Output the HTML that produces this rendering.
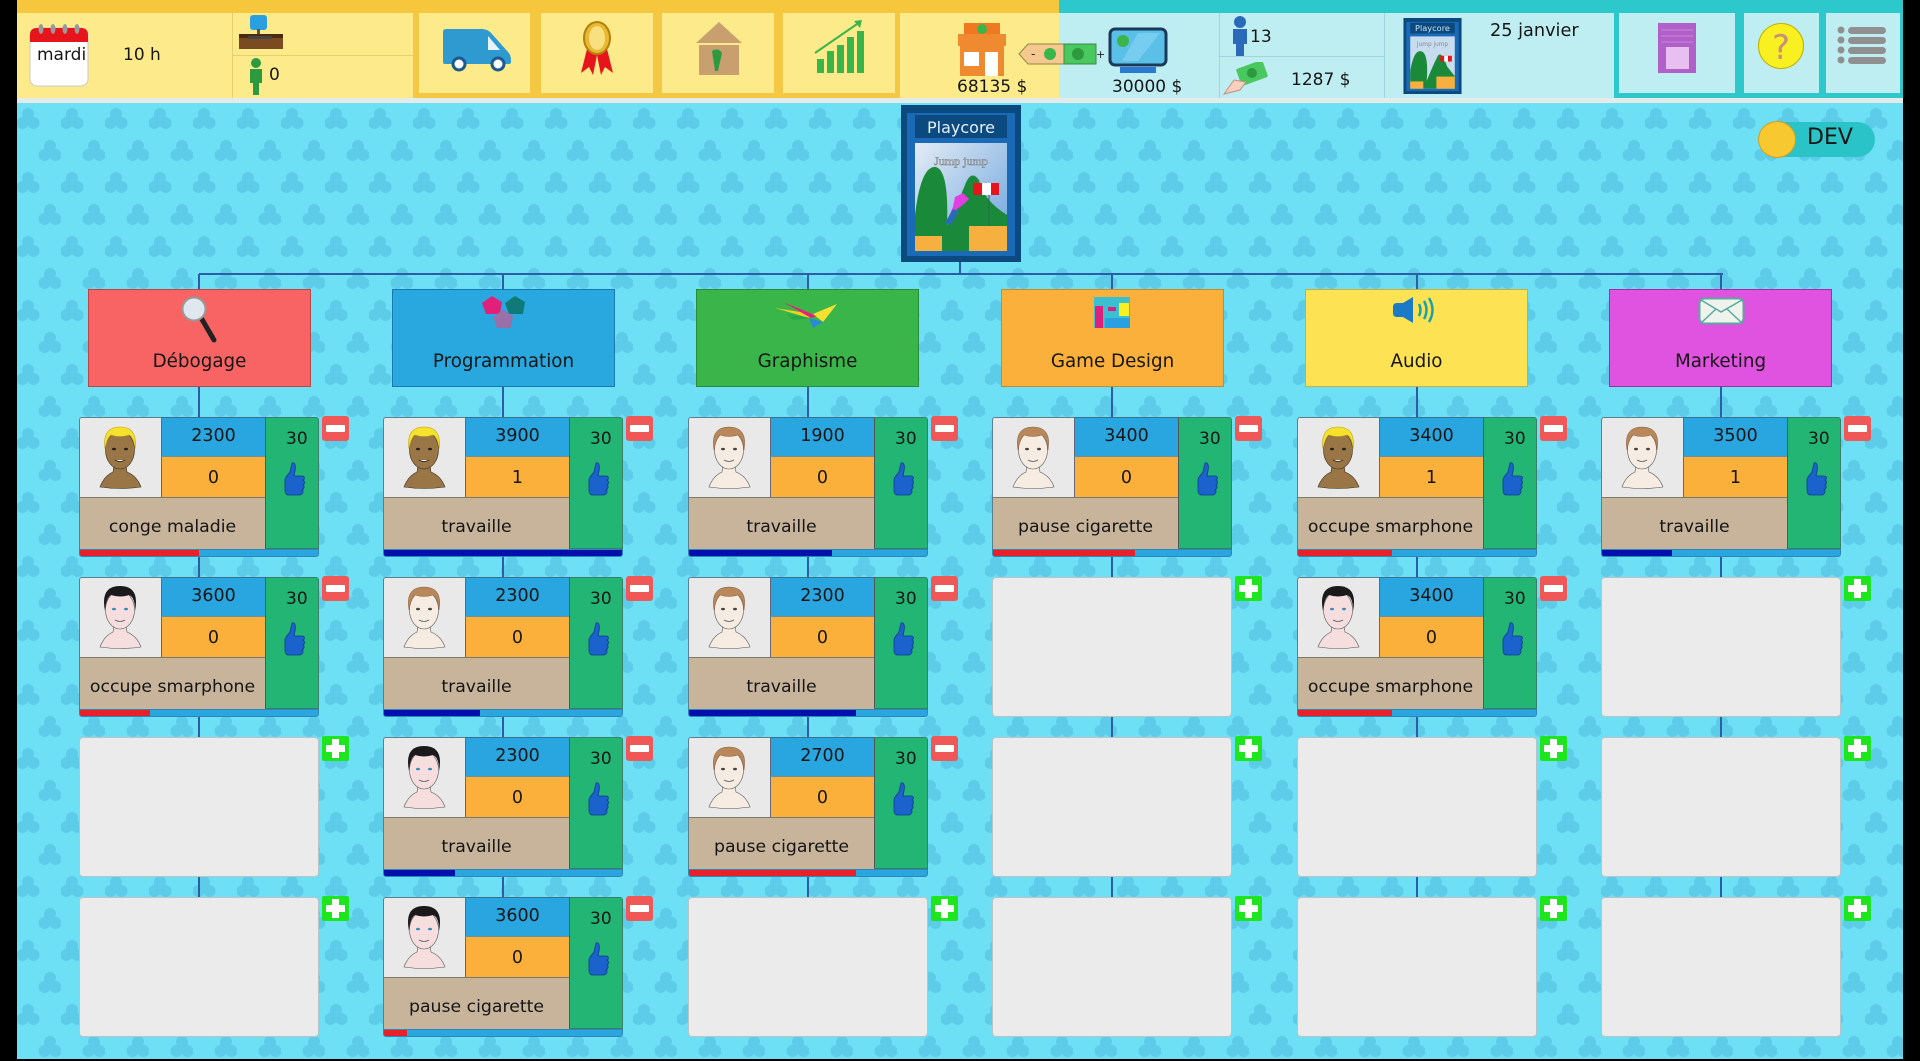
<!DOCTYPE html>
<html><head><meta charset="utf-8">
<style>
*{margin:0;padding:0;box-sizing:border-box}
html,body{width:1920px;height:1061px;overflow:hidden;background:#000}
body{font-family:"DejaVu Sans","Liberation Sans",sans-serif;color:#161616}
#app{position:absolute;left:0;top:0;width:1920px;height:1061px;background:#000;overflow:hidden}
.a{position:absolute}
.t{position:absolute;font-size:17px;line-height:20px;white-space:nowrap}
.box{position:absolute;width:223px;height:98px;border:1px solid rgba(0,0,0,.25);text-align:center;font-size:18.3px}
.box span{position:absolute;left:0;right:0;top:61px;line-height:22px}
.card{position:absolute;width:240px;height:140px}
.card>div{position:absolute}
.ph{left:0;top:0;width:82px;height:81px;background:#e9e9e9;border:1px solid #5c7f8f;border-right:none;border-bottom:1px solid #7a7a6a;border-radius:3px 0 0 0}
.bl{left:82px;top:0;width:104px;height:40px;background:#29a6df;text-align:center;line-height:36px;font-size:17.5px;border-top:1px solid #3a6f8f;border-bottom:1px solid #6f8fa0;border-left:1px solid #667}
.or{left:82px;top:40px;width:104px;height:41px;background:#fbb03b;text-align:center;line-height:42px;font-size:17.5px;border-left:1px solid #667;border-bottom:1px solid #7a7a6a}
.tn{left:0;top:81px;width:186px;height:51px;background:#c7b49b;text-align:center;line-height:58px;font-size:17.3px;border-left:1px solid #5c7f8f;overflow:hidden;white-space:nowrap}
.gr{left:186px;top:0;width:54px;height:132px;background:#22b573;border:1px solid #3a7f6a;border-left:1px solid #555;border-radius:0 3px 0 0}
.gr span{position:absolute;left:20px;top:10px;font-size:17px;line-height:22px}
.gr svg{position:absolute;left:17px;top:44px}
.bar{left:0;top:132px;width:240px;height:8px;background:#29a6df;border:1px solid #2f86b8;border-radius:0 0 3px 3px;overflow:hidden}
.bar i{position:absolute;left:0;top:0;height:8px;display:block}
.rd{background:#e8202a}.dk{background:#0410ad}
.mi{left:243px;top:-1px;width:27px;height:25px;background:#f05858;border-radius:3px}
.mi:after{content:"";position:absolute;left:4px;top:9px;width:19px;height:7px;background:#fff;border-radius:1px}
.empty{position:absolute;width:240px;height:140px;background:#ebebeb;border:1px solid #b9c4c8;border-radius:4px}
.pl{position:absolute;width:27px;height:25px;background:#1ee61e;border-radius:2px}
.pl:before{content:"";position:absolute;left:4px;top:9px;width:19px;height:7px;background:#fff}
.pl:after{content:"";position:absolute;left:10px;top:3px;width:7px;height:19px;background:#fff}
.vl{position:absolute;width:2px;background:#2c5ea8}
</style></head>
<body><div id="app">

<svg width="0" height="0" style="position:absolute">
<defs>
<pattern id="pat" width="44" height="64" patternUnits="userSpaceOnUse">
<rect width="44" height="64" fill="#6de0f6"/>
<g fill="#5ccce9">
<circle cx="11" cy="11" r="6"/><circle cx="5.5" cy="20" r="6"/><circle cx="16.5" cy="20" r="6"/>
<circle cx="33" cy="43" r="6"/><circle cx="27.5" cy="52" r="6"/><circle cx="38.5" cy="52" r="6"/>
</g>
</pattern>
<symbol id="thumb" viewBox="0 0 22 34">
<path d="M9 1 C12 0 13 4 12 9 L11 14 L19 14 C22 14 22 17 20 18 C22 19 22 22 20 23 C22 24 21 27 19 28 C21 29 20 32 17 33 L6 33 C3 33 2 31 2 28 L2 18 C2 15 5 13 7 10 Z" fill="#1c62cc" stroke="#0e3c90" stroke-width=".8"/>
</symbol>
<symbol id="fB" viewBox="0 0 82 81">
<path d="M20 69 Q24 58 33 54 L34 47 L46 47 L47 54 Q57 58 61 69 Q40 72 20 69Z" fill="#9a7646" stroke="#3a3020" stroke-width=".6"/>
<ellipse cx="40" cy="32" rx="14.5" ry="19" fill="#9a7646" stroke="#3a3020" stroke-width=".6"/>
<path d="M25 31 Q22 9 40 9 Q58 9 55 31 Q54 19 49 17 Q40 20 31 17 Q27 20 25 31Z" fill="#f6e22c" stroke="#c0a010" stroke-width=".6"/>
<ellipse cx="34" cy="31" rx="2" ry="1.3" fill="#222"/><ellipse cx="46" cy="31" rx="2" ry="1.3" fill="#222"/>
<path d="M35 42 Q40 45 45 42" stroke="#222" fill="#fff" stroke-width=".8"/>
</symbol>
<symbol id="fK" viewBox="0 0 82 81">
<path d="M20 69 Q24 58 33 54 L34 47 L46 47 L47 54 Q57 58 61 69 Q40 72 20 69Z" fill="#f6dede" stroke="#555" stroke-width=".6"/>
<ellipse cx="40" cy="32" rx="14.5" ry="19" fill="#f6dede" stroke="#555" stroke-width=".6"/>
<path d="M25 33 Q20 8 40 8 Q60 8 55 33 Q55 19 49 17 Q40 20 31 17 Q26 20 25 33Z" fill="#1a1a1a"/>
<ellipse cx="34" cy="31" rx="2" ry="1.3" fill="#3a8ac0"/><ellipse cx="46" cy="31" rx="2" ry="1.3" fill="#3a8ac0"/>
<path d="M35 42 Q40 45 45 42" stroke="#555" fill="none" stroke-width=".8"/>
</symbol>
<symbol id="fR" viewBox="0 0 82 81">
<path d="M20 69 Q24 58 33 54 L34 47 L46 47 L47 54 Q57 58 61 69 Q40 72 20 69Z" fill="#f7ece2" stroke="#555" stroke-width=".6"/>
<ellipse cx="40" cy="32" rx="14.5" ry="19" fill="#f7ece2" stroke="#555" stroke-width=".6"/>
<path d="M25 32 Q21 9 40 9 Q59 9 55 32 Q54 19 49 17 Q40 20 31 17 Q27 20 25 32Z" fill="#b8875a" stroke="#8a6040" stroke-width=".5"/>
<ellipse cx="34" cy="31" rx="2" ry="1.3" fill="#444"/><ellipse cx="46" cy="31" rx="2" ry="1.3" fill="#444"/>
<path d="M35 42 Q40 45 45 42" stroke="#555" fill="none" stroke-width=".8"/>
</symbol>
</defs>
</svg>

<!-- background -->
<svg class="a" style="left:17px;top:103px" width="1886" height="956"><rect width="1886" height="956" fill="url(#pat)"/></svg>

<!-- TOP BAR yellow -->
<div class="a" style="left:17px;top:0;width:1042px;height:98px;background:#fdeb8b"></div>
<div class="a" style="left:17px;top:0;width:1042px;height:13px;background:#f6c73c"></div>
<div class="a" style="left:413px;top:13px;width:487px;height:85px;background:#f5c843"></div>
<div class="a" style="left:419px;top:13px;width:111px;height:80px;background:#fdeb8b"></div>
<div class="a" style="left:541px;top:13px;width:112px;height:80px;background:#fdeb8b"></div>
<div class="a" style="left:662px;top:13px;width:112px;height:80px;background:#fdeb8b"></div>
<div class="a" style="left:783px;top:13px;width:112px;height:80px;background:#fdeb8b"></div>
<div class="a" style="left:232px;top:13px;width:1px;height:85px;background:#e6cf6c"></div>
<div class="a" style="left:233px;top:55px;width:180px;height:1px;background:#e6cf6c"></div>
<!-- teal -->
<div class="a" style="left:1059px;top:0;width:844px;height:98px;background:#bfeef2"></div>
<div class="a" style="left:1059px;top:0;width:844px;height:13px;background:#2cc8cc"></div>
<div class="a" style="left:1614px;top:13px;width:289px;height:85px;background:#2cc8cc"></div>
<div class="a" style="left:1619px;top:13px;width:116px;height:80px;background:#bfeef2"></div>
<div class="a" style="left:1744px;top:13px;width:75px;height:80px;background:#bfeef2"></div>
<div class="a" style="left:1826px;top:13px;width:74px;height:80px;background:#bfeef2"></div>
<div class="a" style="left:1219px;top:13px;width:1px;height:85px;background:#9fd6dc"></div>
<div class="a" style="left:1384px;top:13px;width:1px;height:85px;background:#9fd6dc"></div>
<div class="a" style="left:1220px;top:56px;width:164px;height:1px;background:#9fd6dc"></div>
<div class="a" style="left:17px;top:98px;width:1886px;height:5px;background:#e4ebe8"></div>

<!-- calendar -->
<svg class="a" style="left:29px;top:24px" width="62" height="64">
<rect x="1" y="4" width="58" height="58" rx="7" fill="#fff" stroke="#c8c8c8"/>
<path d="M1 18 L1 11 Q1 4 8 4 L52 4 Q59 4 59 11 L59 18 Z" fill="#e8141c"/>
<g fill="#999"><ellipse cx="12" cy="5" rx="2.5" ry="5"/><ellipse cx="24" cy="5" rx="2.5" ry="5"/><ellipse cx="36" cy="5" rx="2.5" ry="5"/><ellipse cx="48" cy="5" rx="2.5" ry="5"/></g>
</svg>
<div class="t" style="left:37px;top:45px">mardi</div>
<div class="t" style="left:123px;top:45px">10 h</div>
<!-- computer -->
<svg class="a" style="left:238px;top:14px" width="46" height="38">
<rect x="12" y="1" width="17" height="15" rx="3" fill="#2aa0e0"/>
<rect x="19" y="15" width="3" height="5" fill="#555"/>
<path d="M1 20 L45 20 L45 35 L1 35 Z" fill="#7a4a20"/>
<rect x="1" y="20" width="44" height="4" fill="#4a2a10"/>
<rect x="10" y="22" width="24" height="3" fill="#444"/>
</svg>
<svg class="a" style="left:247px;top:57px" width="18" height="40">
<circle cx="9" cy="6" r="5" fill="#2e9a40"/><path d="M3 12 L15 12 L15 26 L12 26 L12 38 L6 38 L6 26 L3 26 Z" fill="#2e9a40"/>
</svg>
<div class="t" style="left:269px;top:65px">0</div>
<!-- truck -->
<svg class="a" style="left:442px;top:28px" width="72" height="44">
<path d="M1 4 Q1 1 4 1 L40 1 Q46 1 50 6 L66 24 Q69 27 69 32 L69 34 Q69 36 67 36 L3 36 Q1 36 1 34 Z" fill="#2e9ad0"/>
<path d="M46 8 L58 22 L46 22 Z" fill="#e8f4fc"/>
<circle cx="17" cy="36" r="6" fill="#fff" stroke="#1a5a90" stroke-width="3"/>
<circle cx="56" cy="36" r="6" fill="#fff" stroke="#1a5a90" stroke-width="3"/>
</svg>
<!-- medal -->
<svg class="a" style="left:577px;top:21px" width="40" height="56">
<path d="M10 28 L4 52 L12 46 L16 54 L20 34 Z" fill="#e8141c"/><path d="M30 28 L36 52 L28 46 L24 54 L20 34 Z" fill="#e8141c"/>
<ellipse cx="20" cy="17" rx="13" ry="16" fill="#e8b830" stroke="#b08010" stroke-width="2"/>
<ellipse cx="20" cy="17" rx="8" ry="12" fill="#f8e080"/>
</svg>
<!-- house -->
<svg class="a" style="left:694px;top:21px" width="50" height="56">
<path d="M25 1 L48 22 L2 22 Z" fill="#c8a070"/>
<rect x="5" y="24" width="40" height="30" fill="#c8a070"/>
<path d="M18 30 Q24 26 28 32 L24 50 L21 50 Z" fill="#2e9a40"/>
</svg>
<!-- chart -->
<svg class="a" style="left:812px;top:19px" width="54" height="56">
<rect x="5" y="40" width="7" height="14" fill="#3ab54a"/><rect x="15" y="32" width="7" height="22" fill="#3ab54a"/>
<rect x="25" y="26" width="7" height="28" fill="#3ab54a"/><rect x="35" y="18" width="7" height="36" fill="#3ab54a"/>
<rect x="45" y="12" width="7" height="42" fill="#3ab54a"/>
<path d="M3 34 L48 3" stroke="#3ab54a" stroke-width="2"/><path d="M42 2 L50 1 L48 9 Z" fill="#3ab54a"/>
</svg>
<!-- shop -->
<svg class="a" style="left:954px;top:22px" width="56" height="56">
<path d="M10 1 L46 1 L46 12 L10 12 Z" fill="#f07820"/>
<rect x="4" y="12" width="48" height="12" fill="#f08a30"/>
<rect x="6" y="24" width="44" height="30" fill="#f08a30"/>
<rect x="10" y="30" width="15" height="14" fill="#fff"/><rect x="31" y="30" width="13" height="24" fill="#fff"/>
<circle cx="28" cy="7" r="5" fill="#3ab54a"/>
</svg>
<svg class="a" style="left:1018px;top:42px" width="86" height="24">
<path d="M1 12 L10 2 L46 2 L46 22 L10 22 Z" fill="#f6c890" stroke="#8a8a40"/>
<rect x="46" y="2" width="32" height="20" fill="#4ac860" stroke="#3a8a40"/>
<circle cx="32" cy="12" r="6" fill="#3ab54a"/><circle cx="60" cy="12" r="6" fill="#2e9a40"/>
<text x="13" y="16" font-size="12" font-family="DejaVu Sans" fill="#222">-</text>
<text x="78" y="16" font-size="11" font-family="DejaVu Sans" fill="#222">+</text>
</svg>
<svg class="a" style="left:1108px;top:27px" width="60" height="48">
<rect x="2" y="2" width="56" height="36" rx="5" fill="#5ac0e8" stroke="#1a3a5a" stroke-width="3"/>
<path d="M30 6 L52 6 L30 34 L14 34 Z" fill="#8ad6f4" opacity=".6"/>
<circle cx="15" cy="14" r="6" fill="#3ab54a"/>
<rect x="12" y="40" width="36" height="6" fill="#2a7ad0"/>
</svg>
<div class="t" style="left:957px;top:77px">68135 $</div>
<div class="t" style="left:1112px;top:77px">30000 $</div>
<svg class="a" style="left:1230px;top:15px" width="20" height="42">
<circle cx="10" cy="7" r="6" fill="#2a6ab8"/><path d="M3 14 L17 14 L17 29 L14 29 L14 41 L6 41 L6 29 L3 29 Z" fill="#2a6ab8"/>
</svg>
<div class="t" style="left:1250px;top:27px">13</div>
<svg class="a" style="left:1222px;top:62px" width="46" height="34">
<rect x="16" y="2" width="28" height="18" rx="2" fill="#4ac860" transform="rotate(-20 30 11)"/>
<circle cx="30" cy="11" r="5" fill="#2e9a40"/>
<path d="M2 32 L12 18 L24 20 L18 28 Z" fill="#f8d0c0" stroke="#c09080"/>
</svg>
<div class="t" style="left:1291px;top:70px">1287 $</div>
<!-- small cover -->
<svg class="a" style="left:1403px;top:18px" width="59" height="76" viewBox="0 0 120 157">
<rect width="120" height="157" fill="#0b4a7e"/><rect x="6" y="8" width="108" height="143" fill="#1a6ab8"/>
<rect x="14" y="10" width="92" height="22" fill="#0b4a7e"/>
<text x="60" y="27" font-size="17" fill="#cfe0f0" text-anchor="middle" font-family="DejaVu Sans">Playcore</text>
<rect x="14" y="38" width="92" height="108" fill="#c8dcf0"/>
<text x="60" y="58" font-size="12" fill="#888" text-anchor="middle" font-family="DejaVu Sans">Jump jump</text>
<path d="M14 146 L14 110 Q22 60 40 70 Q52 80 48 130 Q60 100 70 80 Q78 65 90 100 L106 120 L106 146Z" fill="#1a8a3a"/>
<rect x="14" y="131" width="27" height="15" fill="#f6b040"/><rect x="68" y="121" width="38" height="25" fill="#f6b040"/>
<rect x="76" y="78" width="24" height="12" fill="#e8141c"/><rect x="84" y="78" width="8" height="12" fill="#fff"/>
</svg>
<div class="t" style="left:1490px;top:21px;font-size:17.7px">25 janvier</div>
<!-- book -->
<svg class="a" style="left:1657px;top:22px" width="40" height="52">
<rect x="1" y="1" width="38" height="50" fill="#b060c8"/>
<g stroke="#c888d8" stroke-width="1"><line x1="4" y1="8" x2="36" y2="8"/><line x1="4" y1="14" x2="36" y2="14"/><line x1="4" y1="20" x2="36" y2="20"/></g>
<rect x="9" y="25" width="23" height="22" fill="#e8c0f0"/>
</svg>
<svg class="a" style="left:1757px;top:22px" width="48" height="48">
<circle cx="24" cy="24" r="22.5" fill="#f8f020" stroke="#c0b000" stroke-width="1"/>
<text x="24" y="37" font-size="34" fill="#c8907a" text-anchor="middle" font-family="DejaVu Sans">?</text>
</svg>
<svg class="a" style="left:1837px;top:26px" width="50" height="38">
<g fill="#909090"><circle cx="4" cy="4" r="3.5"/><circle cx="4" cy="14" r="3.5"/><circle cx="4" cy="24" r="3.5"/><circle cx="4" cy="34" r="3.5"/>
<rect x="11" y="1" width="38" height="7" rx="3.5"/><rect x="11" y="11" width="38" height="7" rx="3.5"/><rect x="11" y="21" width="38" height="7" rx="3.5"/><rect x="11" y="31" width="38" height="7" rx="3.5"/></g>
</svg>

<!-- DEV toggle -->
<div class="a" style="left:1760px;top:122px;width:115px;height:35px;background:#2ac4c8;border-radius:18px"></div>
<div class="a" style="left:1758px;top:121px;width:38px;height:37px;background:#f8c830;border-radius:50%;border:1px solid #d0a020"></div>
<div class="t" style="left:1807px;top:125px;font-size:22px;line-height:26px">DEV</div>

<!-- tree lines -->
<div class="a" style="left:199px;top:273px;width:1524px;height:2px;background:#2c5ea8"></div>
<div class="vl" style="left:959px;top:260px;height:14px"></div>
<div class="vl" style="left:198px;top:274px;height:630px"></div>
<div class="vl" style="left:502px;top:274px;height:630px"></div>
<div class="vl" style="left:807px;top:274px;height:630px"></div>
<div class="vl" style="left:1111px;top:274px;height:630px"></div>
<div class="vl" style="left:1416px;top:274px;height:630px"></div>
<div class="vl" style="left:1720px;top:274px;height:630px"></div>

<!-- main cover -->
<svg class="a" style="left:901px;top:105px" width="120" height="157" viewBox="0 0 120 157">
<defs><linearGradient id="sky" x1="0" y1="0" x2="1" y2="1"><stop offset="0" stop-color="#e4ecf6"/><stop offset="1" stop-color="#6aa4dc"/></linearGradient></defs>
<rect width="120" height="157" fill="#0b4a7e"/><rect x="6" y="8" width="108" height="143" fill="#1a6ab8"/>
<rect x="14" y="10" width="92" height="23" fill="#0b4a7e"/>
<text x="60" y="28" font-size="16" fill="#e6f0f8" text-anchor="middle" font-family="DejaVu Sans">Playcore</text>
<rect x="14" y="38" width="92" height="108" fill="url(#sky)"/>
<text x="60" y="60" font-size="12" fill="#dde6ee" stroke="#777" stroke-width=".5" text-anchor="middle" font-family="Liberation Serif">Jump jump</text>
<path d="M14 146 L14 110 Q20 60 35 62 Q48 66 46 120 Q56 100 64 80 Q70 64 78 75 Q82 95 106 110 L106 146Z" fill="#1a8a3a"/>
<rect x="14" y="131" width="27" height="15" fill="#f6b040"/><rect x="68" y="121" width="38" height="25" fill="#f6b040"/>
<rect x="72" y="78" width="26" height="12" fill="#e8141c"/><rect x="81" y="78" width="9" height="12" fill="#fff"/>
<line x1="88" y1="90" x2="88" y2="121" stroke="#2a6a4a"/>
<path d="M54 92 L62 88 L68 94 L62 100 L56 104 L50 118 L46 116 L52 102 Z" fill="#e040e0"/>
<path d="M52 104 L44 118 L50 120 L58 106Z" fill="#2a6ab8"/>
</svg>

<!-- column headers -->
<div class="box" style="left:88px;top:289px;background:#f86464;border-color:#b84848"><span>Débogage</span></div>
<svg class="a" style="left:180px;top:296px" width="40" height="48"><line x1="20" y1="20" x2="34" y2="44" stroke="#222" stroke-width="5" stroke-linecap="round"/><circle cx="14" cy="13" r="11.5" fill="#dfe8ee" stroke="#999" stroke-width="2"/></svg>
<div class="box" style="left:392px;top:289px;background:#29a8e0;border-color:#1a78b0"><span>Programmation</span></div>
<svg class="a" style="left:480px;top:295px" width="48" height="42">
<polygon points="12,1 22,7 20,19 6,19 2,8" fill="#e0207a"/><polygon points="35,1 45,7 43,19 29,19 25,8" fill="#107a78"/><polygon points="23,15 33,21 31,33 17,33 13,22" fill="#9a70a8"/>
</svg>
<div class="box" style="left:696px;top:289px;background:#3ab54a;border-color:#2a8a3a"><span>Graphisme</span></div>
<svg class="a" style="left:773px;top:300px" width="66" height="30">
<path d="M2 8 L40 14 L36 18 Z" fill="#f0d020"/><path d="M10 2 L44 16 L38 18 Z" fill="#e8207a"/>
<path d="M40 14 L64 4 L50 22 Z" fill="#f8e030"/><path d="M36 18 L50 22 L40 28 Z" fill="#2a8ad8"/><path d="M14 14 L38 18 L20 20 Z" fill="#28a848"/>
</svg>
<div class="box" style="left:1001px;top:289px;background:#fbb03b;border-color:#c88a2a"><span>Game Design</span></div>
<svg class="a" style="left:1094px;top:297px" width="36" height="31">
<rect width="36" height="31" fill="#3ac0d0"/><rect x="1" y="9" width="8" height="22" fill="#e0207a"/><rect x="14" y="10" width="8" height="4" fill="#e0207a"/><rect x="25" y="6" width="10" height="13" fill="#f8f020"/><rect x="11" y="21" width="25" height="10" fill="#2aa0e0"/>
</svg>
<div class="box" style="left:1305px;top:289px;background:#fde254;border-color:#c8b040"><span>Audio</span></div>
<svg class="a" style="left:1391px;top:297px" width="46" height="28">
<path d="M2 10 Q2 6 6 6 L12 6 L22 0 L22 26 L12 20 L6 20 Q2 20 2 16 Z" fill="#1a7ac8"/>
<g fill="none" stroke="#1aa0a8" stroke-width="2.5"><path d="M28 7 Q31 13 28 19"/><path d="M33 4 Q38 13 33 22"/><path d="M38 1 Q45 13 38 25"/></g>
</svg>
<div class="box" style="left:1609px;top:289px;background:#e052e0;border-color:#a030a0"><span>Marketing</span></div>
<svg class="a" style="left:1698px;top:297px" width="47" height="28">
<rect x="1.5" y="1.5" width="44" height="25" rx="5" fill="#eef4ec" stroke="#5aa8a0" stroke-width="2"/>
<path d="M3 3 L23 15 L44 3 M3 26 L18 12 M44 26 L29 12" fill="none" stroke="#5aa8a0" stroke-width="1.5"/>
</svg>

<!-- COLUMN 1 -->
<div class="card" style="left:79px;top:417px">
<div class="ph"><svg width="82" height="81"><use href="#fB"/></svg></div>
<div class="bl">2300</div><div class="or">0</div><div class="tn">conge maladie</div>
<div class="gr"><span>30</span><svg width="22" height="34"><use href="#thumb"/></svg></div>
<div class="bar"><i class="rd" style="width:119px"></i></div><div class="mi"></div></div>
<div class="card" style="left:79px;top:577px">
<div class="ph"><svg width="82" height="81"><use href="#fK"/></svg></div>
<div class="bl">3600</div><div class="or">0</div><div class="tn">occupe smarphone</div>
<div class="gr"><span>30</span><svg width="22" height="34"><use href="#thumb"/></svg></div>
<div class="bar"><i class="rd" style="width:70px"></i></div><div class="mi"></div></div>
<div class="empty" style="left:79px;top:737px"></div><div class="pl" style="left:322px;top:736px"></div>
<div class="empty" style="left:79px;top:897px"></div><div class="pl" style="left:322px;top:896px"></div>

<!-- COLUMN 2 -->
<div class="card" style="left:383px;top:417px">
<div class="ph"><svg width="82" height="81"><use href="#fB"/></svg></div>
<div class="bl">3900</div><div class="or">1</div><div class="tn">travaille</div>
<div class="gr"><span>30</span><svg width="22" height="34"><use href="#thumb"/></svg></div>
<div class="bar"><i class="dk" style="width:240px"></i></div><div class="mi"></div></div>
<div class="card" style="left:383px;top:577px">
<div class="ph"><svg width="82" height="81"><use href="#fR"/></svg></div>
<div class="bl">2300</div><div class="or">0</div><div class="tn">travaille</div>
<div class="gr"><span>30</span><svg width="22" height="34"><use href="#thumb"/></svg></div>
<div class="bar"><i class="dk" style="width:96px"></i></div><div class="mi"></div></div>
<div class="card" style="left:383px;top:737px">
<div class="ph"><svg width="82" height="81"><use href="#fK"/></svg></div>
<div class="bl">2300</div><div class="or">0</div><div class="tn">travaille</div>
<div class="gr"><span>30</span><svg width="22" height="34"><use href="#thumb"/></svg></div>
<div class="bar"><i class="dk" style="width:71px"></i></div><div class="mi"></div></div>
<div class="card" style="left:383px;top:897px">
<div class="ph"><svg width="82" height="81"><use href="#fK"/></svg></div>
<div class="bl">3600</div><div class="or">0</div><div class="tn">pause cigarette</div>
<div class="gr"><span>30</span><svg width="22" height="34"><use href="#thumb"/></svg></div>
<div class="bar"><i class="rd" style="width:23px"></i></div><div class="mi"></div></div>

<!-- COLUMN 3 -->
<div class="card" style="left:688px;top:417px">
<div class="ph"><svg width="82" height="81"><use href="#fR"/></svg></div>
<div class="bl">1900</div><div class="or">0</div><div class="tn">travaille</div>
<div class="gr"><span>30</span><svg width="22" height="34"><use href="#thumb"/></svg></div>
<div class="bar"><i class="dk" style="width:143px"></i></div><div class="mi"></div></div>
<div class="card" style="left:688px;top:577px">
<div class="ph"><svg width="82" height="81"><use href="#fR"/></svg></div>
<div class="bl">2300</div><div class="or">0</div><div class="tn">travaille</div>
<div class="gr"><span>30</span><svg width="22" height="34"><use href="#thumb"/></svg></div>
<div class="bar"><i class="dk" style="width:167px"></i></div><div class="mi"></div></div>
<div class="card" style="left:688px;top:737px">
<div class="ph"><svg width="82" height="81"><use href="#fR"/></svg></div>
<div class="bl">2700</div><div class="or">0</div><div class="tn">pause cigarette</div>
<div class="gr"><span>30</span><svg width="22" height="34"><use href="#thumb"/></svg></div>
<div class="bar"><i class="rd" style="width:167px"></i></div><div class="mi"></div></div>
<div class="empty" style="left:688px;top:897px"></div><div class="pl" style="left:931px;top:896px"></div>

<!-- COLUMN 4 -->
<div class="card" style="left:992px;top:417px">
<div class="ph"><svg width="82" height="81"><use href="#fR"/></svg></div>
<div class="bl">3400</div><div class="or">0</div><div class="tn">pause cigarette</div>
<div class="gr"><span>30</span><svg width="22" height="34"><use href="#thumb"/></svg></div>
<div class="bar"><i class="rd" style="width:142px"></i></div><div class="mi"></div></div>
<div class="empty" style="left:992px;top:577px"></div><div class="pl" style="left:1235px;top:576px"></div>
<div class="empty" style="left:992px;top:737px"></div><div class="pl" style="left:1235px;top:736px"></div>
<div class="empty" style="left:992px;top:897px"></div><div class="pl" style="left:1235px;top:896px"></div>

<!-- COLUMN 5 -->
<div class="card" style="left:1297px;top:417px">
<div class="ph"><svg width="82" height="81"><use href="#fB"/></svg></div>
<div class="bl">3400</div><div class="or">1</div><div class="tn">occupe smarphone</div>
<div class="gr"><span>30</span><svg width="22" height="34"><use href="#thumb"/></svg></div>
<div class="bar"><i class="rd" style="width:94px"></i></div><div class="mi"></div></div>
<div class="card" style="left:1297px;top:577px">
<div class="ph"><svg width="82" height="81"><use href="#fK"/></svg></div>
<div class="bl">3400</div><div class="or">0</div><div class="tn">occupe smarphone</div>
<div class="gr"><span>30</span><svg width="22" height="34"><use href="#thumb"/></svg></div>
<div class="bar"><i class="rd" style="width:94px"></i></div><div class="mi"></div></div>
<div class="empty" style="left:1297px;top:737px"></div><div class="pl" style="left:1540px;top:736px"></div>
<div class="empty" style="left:1297px;top:897px"></div><div class="pl" style="left:1540px;top:896px"></div>

<!-- COLUMN 6 -->
<div class="card" style="left:1601px;top:417px">
<div class="ph"><svg width="82" height="81"><use href="#fR"/></svg></div>
<div class="bl">3500</div><div class="or">1</div><div class="tn">travaille</div>
<div class="gr"><span>30</span><svg width="22" height="34"><use href="#thumb"/></svg></div>
<div class="bar"><i class="dk" style="width:70px"></i></div><div class="mi"></div></div>
<div class="empty" style="left:1601px;top:577px"></div><div class="pl" style="left:1844px;top:576px"></div>
<div class="empty" style="left:1601px;top:737px"></div><div class="pl" style="left:1844px;top:736px"></div>
<div class="empty" style="left:1601px;top:897px"></div><div class="pl" style="left:1844px;top:896px"></div>

</div></body></html>
